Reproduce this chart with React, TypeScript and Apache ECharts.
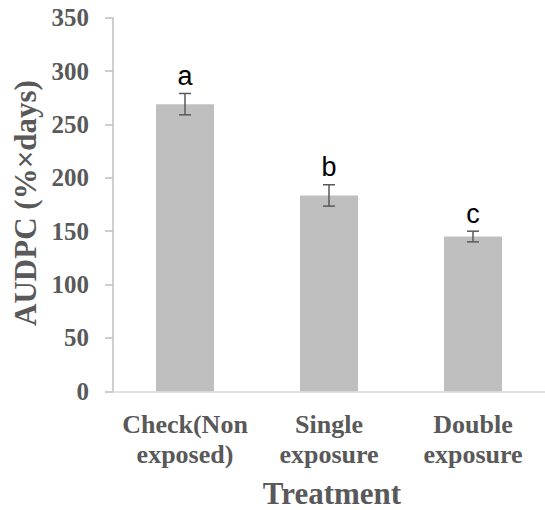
import React, { useEffect, useRef } from "react";
import * as echarts from "echarts";

const categories = ["Check(Non\nexposed)", "Single\nexposure", "Double\nexposure"];
const audpcMeans = [269, 183.5, 145];
const audpcErrors = [10, 10, 5];
const letters = ["a", "b", "c"];
const yTicks = { min: 0, max: 350, interval: 50 };

const SERIF = "'Liberation Serif', 'Times New Roman', serif";
const GREY = "#595959";

export default function App() {
  const ref = useRef<HTMLDivElement>(null);
  useEffect(() => {
    if (!ref.current) return;
    const chart = echarts.init(ref.current, undefined, { renderer: "svg" });
    const errData = audpcMeans.map((m, i) => [i, m - audpcErrors[i], m + audpcErrors[i], letters[i]]);
    chart.setOption({
      animation: false,
      grid: { left: 113, right: -5.5, top: 17.7, bottom: 118.7, containLabel: false },
      xAxis: {
        type: "category",
        data: categories,
        axisLine: { show: true, lineStyle: { color: "#d9d9d9", width: 1.5 } },
        axisTick: { show: false },
        axisLabel: {
          color: GREY,
          fontFamily: SERIF,
          fontWeight: "bold",
          fontSize: 26,
          lineHeight: 30,
          margin: 18,
          interval: 0,
        },
      },
      yAxis: {
        type: "value",
        min: yTicks.min,
        max: yTicks.max,
        interval: yTicks.interval,
        splitLine: { show: false },
        axisLine: { show: true, lineStyle: { color: "#bfbfbf", width: 1.5 } },
        axisTick: { show: true, length: 8, lineStyle: { color: "#bfbfbf", width: 1.5 } },
        axisLabel: {
          color: GREY,
          fontFamily: SERIF,
          fontWeight: "bold",
          fontSize: 25,
          margin: 24,
        },
      },
      graphic: [
        {
          type: "text",
          x: 25,
          y: 203,
          rotation: Math.PI / 2,
          style: {
            text: "AUDPC (%×days)",
            fill: GREY,
            font: "bold 31px " + SERIF,
            textAlign: "center",
            textVerticalAlign: "middle",
          },
        },
        {
          type: "text",
          x: 332,
          y: 493,
          style: {
            text: "Treatment",
            fill: GREY,
            font: "bold 31px " + SERIF,
            textAlign: "center",
            textVerticalAlign: "middle",
          },
        },
      ],
      series: [
        {
          type: "bar",
          data: audpcMeans,
          barWidth: 58,
          itemStyle: { color: "#bfbfbf" },
        },
        {
          type: "custom",
          data: errData,
          z: 10,
          renderItem: (params: any, api: any) => {
            const x = api.value(0);
            const lo = api.coord([x, api.value(1)]);
            const hi = api.coord([x, api.value(2)]);
            const hw = 6;
            const style = { stroke: GREY, lineWidth: 1.5 };
            return {
              type: "group",
              children: [
                { type: "line", shape: { x1: lo[0], y1: lo[1], x2: hi[0], y2: hi[1] }, style },
                { type: "line", shape: { x1: lo[0] - hw, y1: lo[1], x2: lo[0] + hw, y2: lo[1] }, style },
                { type: "line", shape: { x1: hi[0] - hw, y1: hi[1], x2: hi[0] + hw, y2: hi[1] }, style },
                {
                  type: "text",
                  x: hi[0],
                  y: hi[1] - 4,
                  style: {
                    text: letters[params.dataIndex],
                    fill: "#000",
                    font: "27px 'Liberation Sans Narrow', 'Liberation Sans', Arial, sans-serif",
                    textAlign: "center",
                    textVerticalAlign: "bottom",
                  },
                },
              ],
            };
          },
        },
      ],
    });
    return () => chart.dispose();
  }, []);
  return (
    <div
      ref={ref}
      style={{ position: "absolute", left: 0, top: 0, width: 545, height: 510 }}
    />
  );
}
